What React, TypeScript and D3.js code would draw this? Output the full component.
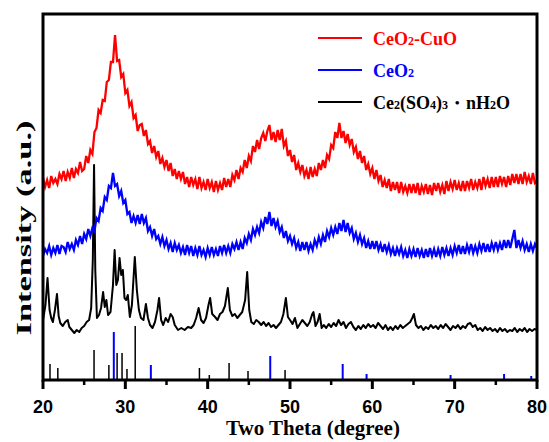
import React from "react";
import * as d3 from "d3";

// XRD patterns, sampled every 0.25 deg from 20 to 80 (intensity in a.u.)
const scanStart = 20;
const scanStep = 0.25;

const ceo2CuoValues = [
  202, 193, 200, 192, 204, 197, 201, 196, 206, 201, 209, 199, 208, 202, 212, 202, 211, 207, 218, 209,
  211, 224, 217, 230, 226, 248, 252, 270, 267, 280, 279, 298, 300, 318, 318, 345, 319, 320, 303, 306,
  287, 290, 274, 278, 262, 265, 249, 255, 256, 244, 250, 236, 239, 227, 234, 223, 229, 216, 222, 213,
  220, 209, 217, 204, 211, 201, 209, 201, 208, 196, 203, 193, 203, 195, 201, 191, 203, 192, 198, 190,
  201, 192, 198, 188, 199, 190, 197, 190, 202, 193, 201, 193, 205, 200, 210, 201, 212, 208, 220, 212,
  224, 219, 234, 228, 240, 231, 242, 247, 239, 249, 255, 240, 248, 238, 250, 240, 251, 234, 239, 224,
  230, 218, 225, 210, 217, 208, 215, 204, 210, 201, 213, 203, 211, 204, 217, 210, 220, 212, 225, 221,
  235, 232, 248, 242, 257, 242, 249, 237, 246, 235, 241, 228, 233, 221, 229, 217, 224, 210, 216, 206,
  212, 201, 210, 199, 205, 193, 200, 192, 201, 189, 198, 190, 198, 187, 198, 188, 194, 187, 196, 187,
  196, 187, 197, 185, 194, 188, 196, 186, 195, 185, 197, 189, 197, 188, 195, 186, 199, 189, 198, 191,
  200, 190, 197, 189, 199, 189, 199, 192, 201, 190, 198, 192, 201, 190, 203, 194, 201, 192, 203, 193,
  203, 193, 204, 196, 203, 193, 204, 195, 206, 197, 206, 196, 206, 196, 208, 198, 204, 196, 207, 197,
  199,
];

const ceo2Values = [
  124, 131, 127, 134, 125, 132, 127, 135, 126, 134, 133, 128, 138, 131, 136, 130, 140, 135, 144, 136,
  146, 141, 151, 144, 152, 149, 162, 159, 172, 169, 183, 180, 194, 192, 207, 194, 196, 184, 189, 177,
  180, 166, 168, 157, 164, 157, 165, 156, 166, 157, 162, 149, 153, 144, 151, 141, 144, 136, 143, 134,
  140, 131, 137, 128, 137, 130, 135, 127, 133, 125, 135, 127, 134, 124, 132, 125, 134, 125, 130, 123,
  132, 125, 133, 125, 131, 124, 134, 127, 135, 127, 134, 127, 136, 131, 138, 130, 138, 131, 142, 137,
  146, 140, 151, 145, 153, 147, 158, 152, 163, 156, 168, 154, 162, 153, 159, 148, 153, 142, 149, 139,
  144, 136, 142, 132, 138, 129, 138, 130, 138, 129, 136, 130, 140, 134, 143, 136, 145, 138, 149, 143,
  152, 145, 153, 146, 157, 149, 160, 148, 157, 147, 152, 141, 147, 138, 145, 136, 142, 132, 139, 131,
  139, 131, 139, 130, 136, 128, 136, 128, 135, 126, 132, 124, 132, 126, 133, 124, 130, 122, 131, 124,
  131, 123, 132, 124, 130, 122, 131, 123, 132, 124, 131, 123, 131, 124, 133, 125, 132, 124, 132, 125,
  134, 127, 135, 126, 134, 126, 135, 128, 136, 127, 134, 127, 136, 129, 137, 128, 136, 128, 137, 130,
  138, 130, 137, 130, 140, 132, 140, 132, 141, 150, 132, 140, 132, 139, 130, 136, 128, 136, 129, 136,
  132,
];

// Ce2(SO4)3·nH2O pattern, [2theta, intensity]
const sulfatePoints = [
  [20.0, 60], [20.3, 75], [20.55, 102], [20.8, 70], [21.0, 62], [21.2, 58], [21.45, 70], [21.7, 86],
  [21.9, 64], [22.1, 57], [22.4, 54], [22.7, 58], [23.0, 60], [23.2, 53], [23.5, 50], [23.8, 47],
  [24.1, 50], [24.4, 48], [24.7, 52], [25.0, 54], [25.3, 58], [25.6, 60], [25.85, 72], [26.05, 120],
  [26.2, 215], [26.35, 110], [26.55, 62], [26.8, 65], [27.05, 72], [27.3, 88], [27.5, 73], [27.7, 80],
  [27.9, 65], [28.2, 68], [28.5, 95], [28.7, 130], [28.9, 95], [29.1, 100], [29.3, 122], [29.5, 105],
  [29.7, 110], [29.9, 82], [30.1, 80], [30.3, 85], [30.55, 63], [30.8, 75], [31.15, 123], [31.4, 90],
  [31.65, 70], [31.9, 62], [32.2, 60], [32.5, 76], [32.75, 62], [33.0, 55], [33.3, 52], [33.6, 58],
  [33.9, 70], [34.1, 82], [34.35, 60], [34.6, 55], [34.9, 62], [35.2, 58], [35.5, 66], [35.75, 63],
  [36.0, 55], [36.4, 50], [36.8, 52], [37.2, 50], [37.6, 53], [38.0, 52], [38.3, 55], [38.6, 62],
  [38.9, 72], [39.2, 60], [39.5, 57], [39.8, 62], [40.1, 75], [40.3, 82], [40.55, 66], [40.9, 63],
  [41.2, 60], [41.5, 66], [41.8, 68], [42.1, 74], [42.45, 92], [42.7, 70], [43.0, 64], [43.3, 66],
  [43.6, 62], [43.9, 65], [44.2, 68], [44.55, 80], [44.8, 108], [45.05, 70], [45.3, 58], [45.6, 56],
  [45.9, 60], [46.2, 58], [46.5, 55], [46.8, 58], [47.1, 54], [47.4, 57], [47.7, 53], [48.0, 55],
  [48.3, 52], [48.6, 55], [48.9, 58], [49.2, 66], [49.5, 82], [49.75, 63], [50.0, 60], [50.3, 56],
  [50.6, 62], [50.9, 52], [51.2, 56], [51.5, 60], [51.8, 57], [52.1, 54], [52.4, 58], [52.7, 66],
  [52.85, 68], [53.1, 54], [53.35, 58], [53.6, 66], [53.85, 52], [54.1, 55], [54.4, 52], [54.7, 56],
  [55.0, 53], [55.3, 57], [55.6, 54], [55.9, 60], [56.2, 55], [56.5, 58], [56.8, 52], [57.1, 56],
  [57.4, 58], [57.7, 53], [58.0, 50], [58.3, 54], [58.6, 51], [58.9, 55], [59.2, 52], [59.5, 56],
  [59.8, 53], [60.1, 55], [60.4, 52], [60.7, 57], [61.0, 54], [61.3, 51], [61.6, 55], [61.9, 50],
  [62.2, 53], [62.5, 50], [62.8, 54], [63.1, 51], [63.4, 55], [63.7, 52], [64.0, 54], [64.3, 56],
  [64.6, 58], [64.85, 62], [65.05, 66], [65.3, 55], [65.6, 52], [65.9, 54], [66.2, 50], [66.5, 53],
  [66.8, 51], [67.1, 55], [67.4, 52], [67.7, 54], [68.0, 51], [68.3, 55], [68.6, 52], [68.9, 56],
  [69.2, 53], [69.5, 50], [69.8, 54], [70.1, 52], [70.4, 55], [70.7, 51], [71.0, 54], [71.3, 52],
  [71.6, 56], [71.9, 57], [72.2, 53], [72.5, 55], [72.8, 50], [73.1, 52], [73.4, 49], [73.7, 53],
  [74.0, 50], [74.3, 52], [74.6, 49], [74.9, 51], [75.2, 48], [75.5, 52], [75.8, 49], [76.1, 51],
  [76.4, 48], [76.7, 50], [77.0, 49], [77.3, 52], [77.6, 48], [77.9, 51], [78.2, 49], [78.5, 52],
  [78.8, 48], [79.1, 51], [79.4, 49], [79.7, 51], [80.0, 50],
];

// standard reference sticks [2theta, relative height]
const sulfateSticks = [
  [20.85, 16], [21.8, 12], [26.2, 30], [28.0, 15], [29.0, 27], [29.6, 27], [30.2, 11],
  [31.2, 54], [39.0, 12], [40.2, 5], [42.6, 17], [44.9, 9], [49.4, 10],
];
const ceo2Sticks = [
  [28.6, 48], [33.1, 15], [47.6, 24], [56.4, 16], [59.3, 6], [69.5, 5], [76.0, 6], [79.3, 4],
];

const majorTicks = [20, 30, 40, 50, 60, 70, 80];
const minorTicks = [25, 35, 45, 55, 65, 75];

const W = 549;
const H = 442;
const plot = { left: 43, right: 537, top: 14, bottom: 380 };

const serif = "'Liberation Serif', 'Times New Roman', serif";
const sans = "'Liberation Sans', Arial, sans-serif";

export default function App() {
  const x = d3.scaleLinear().domain([20, 80]).range([plot.left, plot.right]);
  const y = d3.scaleLinear().domain([0, 366]).range([plot.bottom, plot.top]);

  const stepLine = d3
    .line<number>()
    .x((d, i) => x(scanStart + i * scanStep))
    .y((d) => y(d));
  const pairLine = d3
    .line<number[]>()
    .x((d) => x(d[0]))
    .y((d) => y(d[1]));

  const legend = [
    { color: "#ff0000", y: 38, label: [["CeO", 0], ["2", 1], ["-CuO", 0]] },
    { color: "#0000ff", y: 70, label: [["CeO", 0], ["2", 1]] },
    {
      color: "#000000",
      y: 102,
      label: [["Ce", 0], ["2", 1], ["(SO", 0], ["4", 1], [")", 0], ["3", 1], ["・nH", 0], ["2", 1], ["O", 0]],
    },
  ];

  return (
    <svg
      width={W}
      height={H}
      style={{ position: "absolute", left: 0, top: 0, background: "#fff" }}
    >
      {/* reference sticks */}
      {sulfateSticks.map((d, i) => (
        <line key={"s" + i} x1={x(d[0])} x2={x(d[0])} y1={y(0)} y2={y(d[1])} stroke="#000" strokeWidth={1.5} />
      ))}
      {ceo2Sticks.map((d, i) => (
        <line key={"c" + i} x1={x(d[0])} x2={x(d[0])} y1={y(0)} y2={y(d[1])} stroke="#0000ff" strokeWidth={2} />
      ))}

      <path d={pairLine(sulfatePoints) || ""} fill="none" stroke="#000" strokeWidth={2} strokeLinejoin="round" />
      <path d={stepLine(ceo2Values) || ""} fill="none" stroke="#0000ff" strokeWidth={2.3} />
      <path d={stepLine(ceo2CuoValues) || ""} fill="none" stroke="#ff0000" strokeWidth={2.3} />

      {/* frame */}
      <rect
        x={plot.left}
        y={plot.top}
        width={plot.right - plot.left}
        height={plot.bottom - plot.top}
        fill="none"
        stroke="#000"
        strokeWidth={3}
      />

      {majorTicks.map((t) => (
        <g key={t}>
          <line x1={x(t)} x2={x(t)} y1={plot.bottom} y2={plot.bottom + 9} stroke="#000" strokeWidth={3} />
          <text x={x(t)} y={413} textAnchor="middle" fontFamily={sans} fontWeight="bold" fontSize={18}>
            {t}
          </text>
        </g>
      ))}
      {minorTicks.map((t) => (
        <line key={t} x1={x(t)} x2={x(t)} y1={plot.bottom} y2={plot.bottom + 5} stroke="#000" strokeWidth={2.5} />
      ))}

      <text x={313} y={435} textAnchor="middle" fontFamily={serif} fontWeight="bold" fontSize={21}>
        Two Theta (degree)
      </text>
      <text
        transform="translate(31,228) rotate(-90)"
        textAnchor="middle"
        fontFamily={serif}
        fontWeight="bold"
        fontSize={21}
        textLength={215}
        lengthAdjust="spacingAndGlyphs"
      >
        Intensity (a.u.)
      </text>

      {/* legend */}
      {legend.map((l) => (
        <g key={l.y}>
          <line x1={318} x2={362} y1={l.y} y2={l.y} stroke={l.color} strokeWidth={2.2} />
          <text x={373} y={l.y + 7} fill={l.color} fontFamily={serif} fontWeight="bold" fontSize={18}>
            {l.label.map((p, i) => (
              <tspan key={i} fontSize={p[1] ? 12 : 18}>
                {p[0]}
              </tspan>
            ))}
          </text>
        </g>
      ))}
    </svg>
  );
}
